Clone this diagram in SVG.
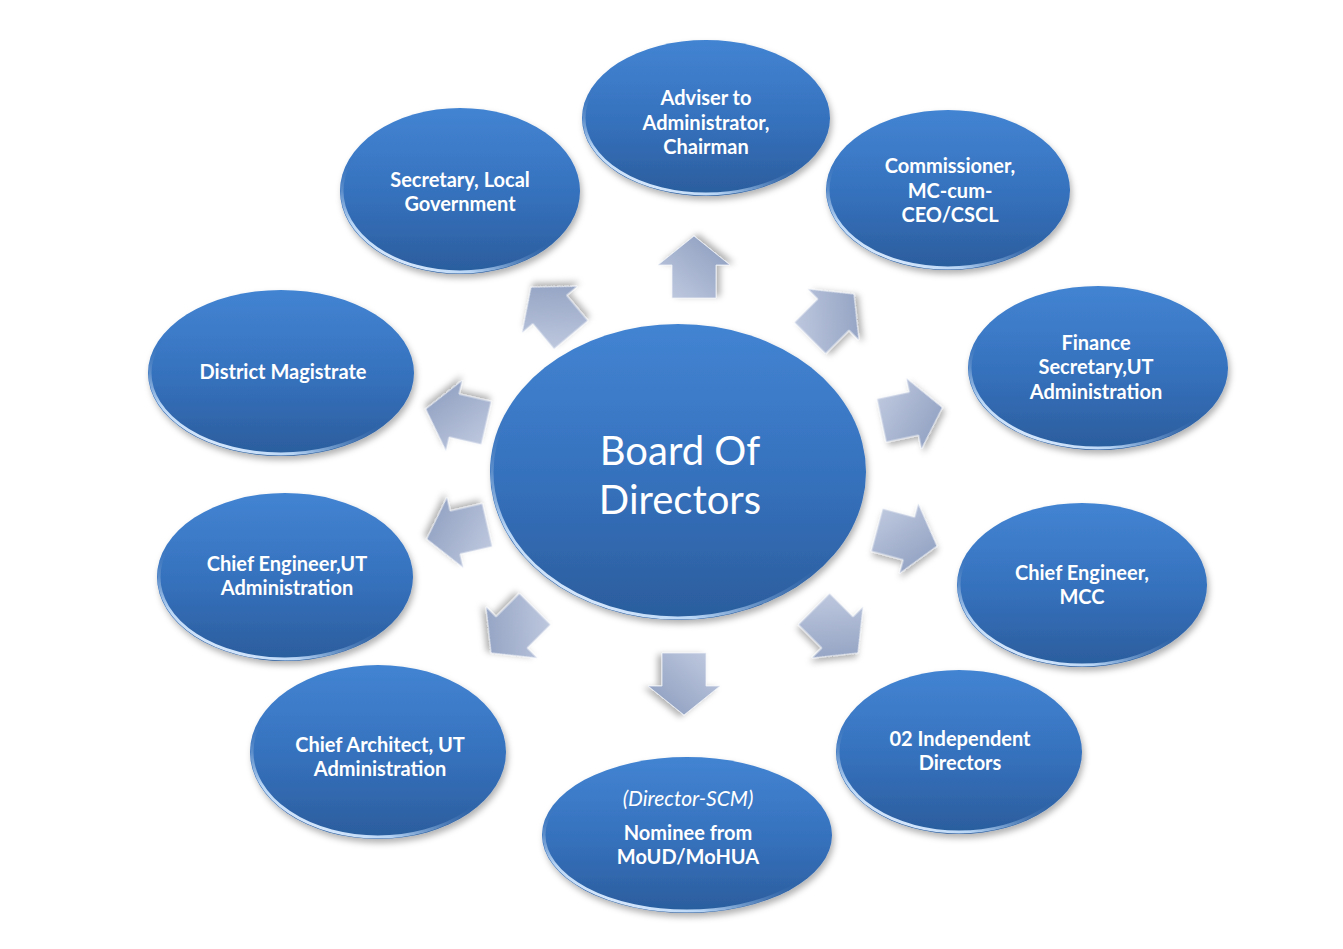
<svg xmlns="http://www.w3.org/2000/svg" width="1343" height="949" viewBox="0 0 1343 949">
<defs>
<linearGradient id="blue" x1="0" y1="0" x2="0" y2="1">
<stop offset="0" stop-color="#4384d2"/>
<stop offset="0.5" stop-color="#3672be"/>
<stop offset="1" stop-color="#2b5d9d"/>
</linearGradient>
<linearGradient id="rim" x1="0.8" y1="0" x2="0.2" y2="1">
<stop offset="0" stop-color="#2f66aa" stop-opacity="0"/>
<stop offset="0.55" stop-color="#2f66aa" stop-opacity="0"/>
<stop offset="0.85" stop-color="#b9d6f6"/>
<stop offset="1" stop-color="#e8f2ff"/>
</linearGradient>
<linearGradient id="arrowFill" x1="0" y1="0" x2="1" y2="1">
<stop offset="0" stop-color="#c3cde2"/>
<stop offset="0.5" stop-color="#a6b3cf"/>
<stop offset="1" stop-color="#8a9abd"/>
</linearGradient>
<filter id="shadow" x="-20%" y="-20%" width="140%" height="150%">
<feDropShadow dx="2" dy="4" stdDeviation="3" flood-color="#000" flood-opacity="0.3"/>
</filter>
<path id="arrow" d="M31,0 L2,-36 L2,-22 L-31,-22 L-31,22 L2,22 L2,36 Z"/>
<style>
.node ellipse.b{fill:url(#blue);filter:url(#shadow);}
.node ellipse.r{fill:none;stroke:url(#rim);stroke-width:3;}
.t{font-family:Lato,"Open Sans","Liberation Sans",sans-serif;font-weight:bold;font-size:20px;fill:#fff;text-anchor:middle;}
.ti{font-family:Lato,"Open Sans","Liberation Sans",sans-serif;font-style:italic;font-size:21px;fill:#fff;text-anchor:middle;}
.big{font-family:Lato,"Open Sans","Liberation Sans",sans-serif;font-size:40px;fill:#fff;text-anchor:middle;}
.arr use{fill:url(#arrowFill);stroke:#eef1f8;stroke-width:0.8;filter:url(#shadow);}
</style>
</defs>
<rect width="1343" height="949" fill="#fff"/>

<g id="connectors" class="arr">
<use href="#arrow" transform="translate(694,267) rotate(-90)"/>
<use href="#arrow" transform="translate(832,316) rotate(-45)"/>
<use href="#arrow" transform="translate(551,311) rotate(-130)"/>
<use href="#arrow" transform="translate(456,416) rotate(193)"/>
<use href="#arrow" transform="translate(457,532) rotate(167)"/>
<use href="#arrow" transform="translate(912,414) rotate(-12)"/>
<use href="#arrow" transform="translate(907,538) rotate(15)"/>
<use href="#arrow" transform="translate(513,631) rotate(135)"/>
<use href="#arrow" transform="translate(684,684) rotate(90)"/>
<use href="#arrow" transform="translate(836,631) rotate(45)"/>
</g>

<g id="board" class="node">
<ellipse class="b" cx="678" cy="472" rx="188" ry="148"/>
<ellipse class="r" cx="678" cy="472" rx="186" ry="146"/>
<text class="big" x="680" y="465">Board Of</text>
<text class="big" x="680" y="514">Directors</text>
</g>

<g id="adviser" class="node">
<ellipse class="b" cx="706" cy="118" rx="124" ry="78"/>
<ellipse class="r" cx="706" cy="118" rx="122" ry="76"/>
<text class="t" x="706" y="105">Adviser to</text>
<text class="t" x="706" y="130">Administrator,</text>
<text class="t" x="706" y="154">Chairman</text>
</g>

<g id="secretary" class="node">
<ellipse class="b" cx="460" cy="191" rx="120" ry="83"/>
<ellipse class="r" cx="460" cy="191" rx="118" ry="81"/>
<text class="t" x="460" y="187">Secretary, Local</text>
<text class="t" x="460" y="211">Government</text>
</g>

<g id="commissioner" class="node">
<ellipse class="b" cx="948" cy="190" rx="122" ry="80"/>
<ellipse class="r" cx="948" cy="190" rx="120" ry="78"/>
<text class="t" x="950" y="173">Commissioner,</text>
<text class="t" x="950" y="198">MC-cum-</text>
<text class="t" x="950" y="222">CEO/CSCL</text>
</g>

<g id="district" class="node">
<ellipse class="b" cx="281" cy="373" rx="133" ry="83"/>
<ellipse class="r" cx="281" cy="373" rx="131" ry="81"/>
<text class="t" x="283" y="379">District Magistrate</text>
</g>

<g id="finance" class="node">
<ellipse class="b" cx="1098" cy="368" rx="130" ry="82"/>
<ellipse class="r" cx="1098" cy="368" rx="128" ry="80"/>
<text class="t" x="1096" y="350">Finance</text>
<text class="t" x="1096" y="374">Secretary,UT</text>
<text class="t" x="1096" y="399">Administration</text>
</g>

<g id="chief-engineer-ut" class="node">
<ellipse class="b" cx="285" cy="577" rx="128" ry="84"/>
<ellipse class="r" cx="285" cy="577" rx="126" ry="82"/>
<text class="t" x="287" y="571">Chief Engineer,UT</text>
<text class="t" x="287" y="595">Administration</text>
</g>

<g id="chief-engineer-mcc" class="node">
<ellipse class="b" cx="1082" cy="585" rx="125" ry="82"/>
<ellipse class="r" cx="1082" cy="585" rx="123" ry="80"/>
<text class="t" x="1082" y="580">Chief Engineer,</text>
<text class="t" x="1082" y="604">MCC</text>
</g>

<g id="chief-architect" class="node">
<ellipse class="b" cx="378" cy="752" rx="128" ry="87"/>
<ellipse class="r" cx="378" cy="752" rx="126" ry="85"/>
<text class="t" x="380" y="752">Chief Architect, UT</text>
<text class="t" x="380" y="776">Administration</text>
</g>

<g id="independent" class="node">
<ellipse class="b" cx="959" cy="752" rx="123" ry="82"/>
<ellipse class="r" cx="959" cy="752" rx="121" ry="80"/>
<text class="t" x="960" y="746">02 Independent</text>
<text class="t" x="960" y="770">Directors</text>
</g>

<g id="nominee" class="node">
<ellipse class="b" cx="687" cy="835" rx="145" ry="78"/>
<ellipse class="r" cx="687" cy="835" rx="143" ry="76"/>
<text class="ti" x="688" y="806">(Director-SCM)</text>
<text class="t" x="688" y="840">Nominee from</text>
<text class="t" x="688" y="864">MoUD/MoHUA</text>
</g>
</svg>
